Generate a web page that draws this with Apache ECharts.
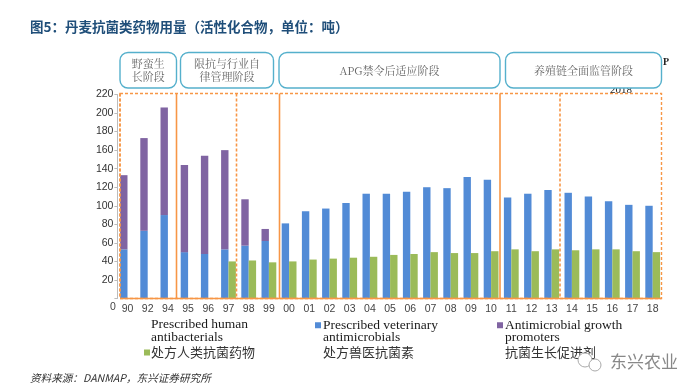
<!DOCTYPE html>
<html><head><meta charset="utf-8">
<style>html,body{margin:0;padding:0;background:#fff}#c{width:700px;height:392px;filter:blur(0.35px)}</style>
<script src="https://cdn.jsdelivr.net/npm/echarts@6/dist/echarts.min.js"></script>
</head><body><div id="c"></div>
<script>
const categories = ['90','92','94','95','96','97','98','99','00','01','02','03','04','05','06','07','08','09','10','11','12','13','14','15','16','17','18'];
const veterinary = [53,73,90,50,48,53,57,62,81,94,97,103,113,113,115,120,119,131,128,109,113,117,114,110,105,101,100];
const promoters  = [80,100,116,94,106,107,50,13,null,null,null,null,null,null,null,null,null,null,null,null,null,null,null,null,null,null,null];
const human      = [null,null,null,null,null,40,41,39,40,42,43,44,45,47,48,50,49,49,51,53,51,53,52,53,53,51,50];
const humanName = '处方人类抗菌药物', vetName = 'Prescribed veterinary', promName = 'Antimicrobial growth';
const titleText = '图5\uFF1A丹麦抗菌类药物用量\uFF08活性化合物\uFF0C单位\uFF1A吨\uFF09';
const sourceText = '资料来源\uFF1ADANMAP\uFF0C东兴证券研究所';
const stages = [
  {t:'野蛮生\n长阶段', x:120, w:56.5},
  {t:'限抗与行业自\n律管理阶段', x:180.5, w:93},
  {t:'APG禁令后适应阶段', x:279, w:221},
  {t:'养殖链全面监管阶段', x:505.5, w:156}
];
const CJK = '"Noto Sans CJK SC"', SERIF = '"Liberation Serif","Noto Sans CJK SC"', SANS = '"Liberation Sans","Noto Sans CJK SC"';
const orange = '#F79646', gTop = 94.5, gBot = 298.5;
const vline = (x, dashed) => ({type:'line', z:50, shape:{x1:x,y1:gTop-1,x2:x,y2:gBot},
  style:{stroke:orange, lineWidth:1.6, lineDash:dashed?[3,2]:null}});
const txt = (x,y,text,font,fill,extra) => ({type:'text', z:60, x, y, style:Object.assign({text,font,fill,textVerticalAlign:'middle'},extra||{})});
const graphics = [
  txt(30,27,titleText,'bold 13.5px '+CJK,'#1F4E79'),
  txt(30,378,sourceText,'italic 10.6px '+CJK,'#333'),
  txt(663,62,'P','bold 10px '+SERIF,'#222'),
  txt(610,90,'2018','11px '+SERIF,'#222'),
  {type:'rect', z:45, shape:{x:605,y:94,width:45,height:4}, style:{fill:'#fff'}},
  {type:'rect', z:50, shape:{x:120,y:gTop-1,width:541.5,height:gBot-gTop+1}, style:{fill:'none',stroke:orange,lineWidth:1.4,lineDash:[3,2]}},
  {type:'line', z:50, shape:{x1:120,y1:gBot,x2:661.5,y2:gBot}, style:{stroke:orange,lineWidth:1.4}},
  vline(120,true), vline(176.5,false), vline(236.5,true), vline(279.5,false), vline(500,false), vline(560,true),
  txt(113,307,'0','10.5px '+SANS,'#444',{textAlign:'center'}),
  txt(151,324,'Prescribed human','13.5px '+SERIF,'#1a1a1a'),
  txt(151,337.5,'antibacterials','13.5px '+SERIF,'#1a1a1a'),
  txt(323,337.5,'antimicrobials','13.5px '+SERIF,'#1a1a1a'),
  txt(323,352,'处方兽医抗菌素','13px '+CJK,'#333'),
  txt(505,337.5,'promoters','13.5px '+SERIF,'#1a1a1a'),
  txt(505,352,'抗菌生长促进剂','13px '+CJK,'#333'),
  txt(610,362,'东兴农业','17px '+CJK,'#888'),
  {type:'circle', z:60, shape:{cx:585,cy:360,r:7}, style:{fill:'#fff',stroke:'#aaa',lineWidth:1}},
  {type:'circle', z:60, shape:{cx:595,cy:365,r:6}, style:{fill:'#fff',stroke:'#aaa',lineWidth:1}}
];
stages.forEach(s => {
  graphics.push({type:'rect', z:60, shape:{x:s.x,y:52.5,width:s.w,height:35.5,r:8}, style:{fill:'#fff',stroke:'#55B0CC',lineWidth:1.4}});
  graphics.push({type:'text', z:61, x:s.x+s.w/2, y:70.5, style:{text:s.t,font:'11px "Noto Serif CJK SC",'+SERIF,fill:'#666',textAlign:'center',textVerticalAlign:'middle',lineHeight:12.5}});
});
const legendBase = {orient:'horizontal', padding:0, itemWidth:6, itemHeight:6, itemGap:2, selectedMode:false, icon:'rect'};
const chart = echarts.init(document.getElementById('c'), null, {renderer:'canvas'});
chart.setOption({
  animation:false,
  backgroundColor:'#fff',
  grid:{left:117.4, right:37.2, top:94.5, bottom:392-298.5},
  legend:[
    Object.assign({},legendBase,{left:144,top:346,data:[humanName],itemGap:0,textStyle:{fontFamily:CJK,fontSize:13,color:'#333',padding:[0,0,0,-4]}}),
    Object.assign({},legendBase,{left:315,top:318.5,data:[vetName],textStyle:{fontFamily:SERIF,fontSize:13.5,color:'#1a1a1a',padding:[0,0,0,-3]}}),
    Object.assign({},legendBase,{left:497,top:318.5,data:[promName],textStyle:{fontFamily:SERIF,fontSize:13.5,color:'#1a1a1a',padding:[0,0,0,-3]}})
  ],
  xAxis:{type:'category',data:categories,axisTick:{show:false},axisLine:{show:false},
    axisLabel:{interval:0,margin:5,color:'#444',fontFamily:SANS,fontSize:10.5}},
  yAxis:{type:'value',min:0,max:220,interval:20,
    axisLine:{show:true,lineStyle:{color:'#bbb'}},axisTick:{show:true,length:3,lineStyle:{color:'#bbb'}},
    splitLine:{show:false},
    axisLabel:{margin:4,color:'#333',fontFamily:SANS,fontSize:10.5,formatter:v=>v===0?'':String(v)}},
  series:[
    {name:vetName,type:'bar',stack:'a',barWidth:7.4,barGap:'0%',data:veterinary,itemStyle:{color:'#528BD6'}},
    {name:promName,type:'bar',stack:'a',barWidth:7.4,data:promoters,itemStyle:{color:'#8064A2'}},
    {name:humanName,type:'bar',barWidth:7.4,data:human,itemStyle:{color:'#9BBB59'}}
  ],
  graphic:graphics
});
</script></body></html>
